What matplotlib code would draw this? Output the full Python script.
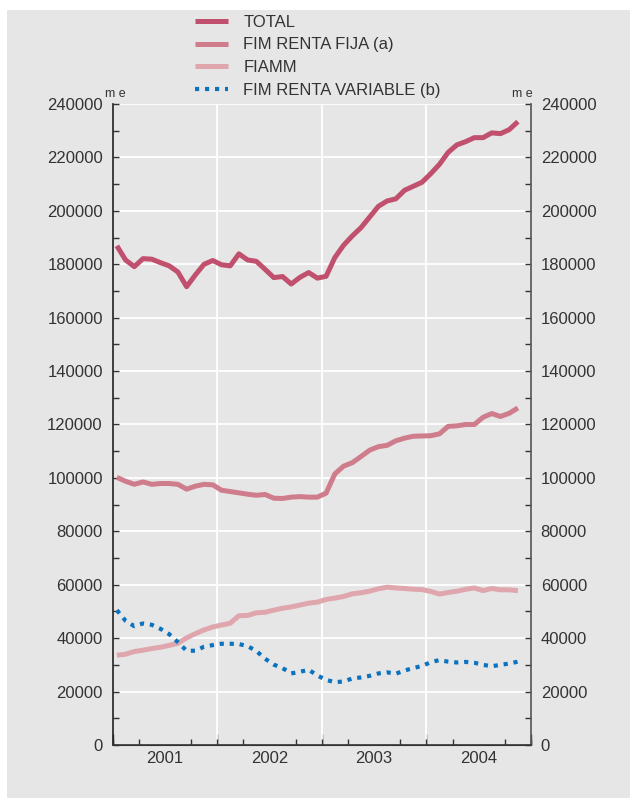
import matplotlib
matplotlib.use("Agg")
import matplotlib.pyplot as plt
from matplotlib.patches import Rectangle
import numpy as np

plt.rcParams['font.family'] = ['Liberation Sans', 'DejaVu Sans']

# saldos mensuales, ene-2001 a nov-2004
total = [186900, 181600, 179100, 182100, 181900, 180600, 179400, 177100, 171600, 176000,
         180000, 181400, 179800, 179400, 183900, 181600, 181100, 178100, 175000, 175400,
         172600, 175100, 176900, 174800, 175500, 182500, 187100, 190600, 193700, 197700,
         201700, 203700, 204500, 207700, 209200, 210700, 213900, 217400, 221900, 224700,
         225900, 227400, 227400, 229200, 228900, 230400, 233400]
renta_fija = [100200, 98750, 97600, 98500, 97600, 97900, 97900, 97600, 95800, 96900,
              97600, 97400, 95400, 94900, 94400, 93900, 93500, 93800, 92400, 92300,
              92800, 93000, 92800, 92800, 94300, 101500, 104400, 105700, 108000, 110400,
              111700, 112200, 113900, 114900, 115600, 115700, 115800, 116500, 119300, 119500,
              120000, 120000, 122700, 124100, 123000, 124200, 126200]
fiamm = [33600, 34000, 35000, 35500, 36100, 36600, 37300, 38100, 40100, 41700,
         43100, 44200, 44900, 45600, 48400, 48500, 49500, 49700, 50500, 51200,
         51700, 52400, 53100, 53500, 54500, 55000, 55600, 56600, 57000, 57600,
         58500, 59100, 58800, 58600, 58300, 58200, 57500, 56500, 57100, 57600,
         58300, 58800, 57800, 58600, 58100, 58100, 57800]
renta_variable = [50500, 46500, 44500, 45500, 45000, 43500, 41500, 38500, 35300, 35300,
                  36800, 37400, 37900, 37900, 37800, 37000, 35200, 32300, 30100, 28800,
                  26800, 27400, 28200, 26000, 24400, 23500, 23800, 24900, 25300, 25900,
                  26800, 27200, 26700, 27900, 28800, 29600, 31000, 31800, 31200, 30900,
                  31100, 30800, 30000, 29500, 30000, 30500, 31200]
years = ['2001', '2002', '2003', '2004']
series_names = ['TOTAL', 'FIM RENTA FIJA (a)', 'FIAMM', 'FIM RENTA VARIABLE (b)']

bg = '#e6e6e6'
txt = '#333333'
meses = np.arange(len(total)) + 0.5

fig = plt.figure(figsize=(6.3, 7.98), dpi=100)
fig.patches.append(Rectangle((7 / 630, 0), 1, 1 - 10 / 798, transform=fig.transFigure,
                             facecolor=bg, edgecolor='none', zorder=-10))
ax = fig.add_axes([112.5 / 630, 1 - 745 / 798, 418.5 / 630, 641 / 798])
ax.set_facecolor(bg)

for v in range(20000, 240001, 20000):
    ax.axhline(v, color='white', lw=1.3, zorder=1)
for m in (12, 24, 36):
    ax.axvline(m, color='white', lw=1.3, zorder=1)

ax.plot(meses, total, color='#c0506e', lw=3.6, solid_capstyle='butt', label=series_names[0], zorder=3)
ax.plot(meses, renta_fija, color='#cf7d8c', lw=3.6, solid_capstyle='butt', label=series_names[1], zorder=3)
ax.plot(meses, fiamm, color='#e0a6ae', lw=3.6, solid_capstyle='butt', label=series_names[2], zorder=3)
ax.plot(meses, renta_variable, color='#0a72bf', lw=3.0, linestyle=(0, (1, 1.4)),
        label=series_names[3], zorder=4)

ax.set_xlim(0, 48)
ax.set_ylim(0, 240000)

ax.set_xticks([6, 18, 30, 42], years)
ax.set_xticks(range(0, 49, 3), minor=True)
ax.tick_params(axis='x', which='major', length=0, pad=4, labelsize=12, labelcolor=txt)
ax.tick_params(axis='x', which='minor', direction='in', length=4, width=1, color=txt)
sec = ax.secondary_xaxis('bottom')
sec.set_xticks([0, 12, 24, 36, 48], ['', '', '', '', ''])
sec.tick_params(direction='in', length=8, width=1, color=txt)
sec.spines['bottom'].set_color(txt)

ax.set_yticks(range(0, 240001, 20000))
ax.set_yticks(range(0, 240001, 10000), minor=True)
ax.tick_params(axis='y', which='both', direction='in', length=4, width=1, color=txt,
               left=True, right=True, labelleft=True, labelright=True,
               labelsize=12, labelcolor=txt, pad=7)

ax.spines['top'].set_visible(False)
ax.spines['left'].set_color('#222222')
ax.spines['right'].set_color('#555555')
ax.spines['bottom'].set_color(txt)
for s in ('left', 'right', 'bottom'):
    ax.spines[s].set_linewidth(1.2)

ax.text(-0.017, 1.006, 'm e', transform=ax.transAxes, ha='left', va='bottom', fontsize=9, color=txt)
ax.text(1.003, 1.006, 'm e', transform=ax.transAxes, ha='right', va='bottom', fontsize=9, color=txt)

fig.legend(loc='upper left', bbox_to_anchor=(195 / 630, 1 - 15 / 798), frameon=False,
           fontsize=12, handlelength=2.0, handletextpad=0.9, labelspacing=0.45,
           borderpad=0, borderaxespad=0, labelcolor=txt)

fig.savefig('out.png', dpi=100, facecolor='white')
